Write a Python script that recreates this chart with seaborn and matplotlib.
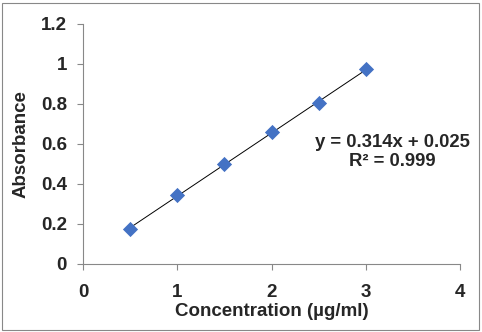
import numpy as np
import pandas as pd
import matplotlib
matplotlib.use("Agg")
import matplotlib.pyplot as plt
import seaborn as sns
from matplotlib.patches import Rectangle

concentration = [0.5, 1.0, 1.5, 2.0, 2.5, 3.0]
absorbance = [0.176, 0.345, 0.498, 0.661, 0.803, 0.973]
x_ticks = [0, 1, 2, 3, 4]
y_ticks = [0, 0.2, 0.4, 0.6, 0.8, 1.0, 1.2]
y_tick_labels = ["0", "0.2", "0.4", "0.6", "0.8", "1", "1.2"]
equation_text = "y = 0.314x + 0.025\nR\u00b2 = 0.999"

df = pd.DataFrame({"Concentration": concentration, "Absorbance": absorbance})

sns.set_style("white")
plt.rcParams["font.family"] = ["Liberation Sans", "DejaVu Sans"]
plt.rcParams["font.weight"] = "bold"

fig = plt.figure(figsize=(4.82, 3.32), dpi=100)
ax = fig.add_axes([83 / 482, 1 - 264 / 332, (460 - 83) / 482, (264 - 24) / 332])

sns.regplot(data=df, x="Concentration", y="Absorbance", ax=ax, ci=None,
            scatter=False, line_kws=dict(color="black", lw=0.7), truncate=True)
sns.scatterplot(data=df, x="Concentration", y="Absorbance", ax=ax, marker="D",
                s=60, color="#4472C4", edgecolor="#4472C4", linewidth=0, zorder=3)

ax.set_xlim(0, 4)
ax.set_ylim(0, 1.2)
ax.set_xticks(x_ticks)
ax.set_xticklabels([str(t) for t in x_ticks], fontsize=13.5, fontweight="bold")
ax.set_yticks(y_ticks)
ax.set_yticklabels(y_tick_labels, fontsize=13.5, fontweight="bold")
ax.set_xlabel("Concentration (\u00b5g/ml)", fontsize=13.5, fontweight="bold", labelpad=1)
ax.set_ylabel("Absorbance", fontsize=13.5, fontweight="bold", labelpad=8)

for s in ["top", "right"]:
    ax.spines[s].set_visible(False)
for s in ["left", "bottom"]:
    ax.spines[s].set_color("#888888")
    ax.spines[s].set_linewidth(0.8)
ax.tick_params(axis="y", which="both", direction="out", length=4.5, width=0.8,
               color="#888888", left=True, pad=7)
ax.tick_params(axis="x", which="both", direction="out", length=4.5, width=0.8,
               color="#888888", bottom=True, pad=10)

ax.text(3.28, 0.56, equation_text, ha="center", va="center", fontsize=13.3,
        fontweight="bold", linespacing=1.2)

fig.patches.append(Rectangle((2 / 482, 2 / 332), 477 / 482, 327 / 332,
                             transform=fig.transFigure, fill=False,
                             edgecolor="#888888", linewidth=0.8))

fig.savefig("out.png", dpi=100)
